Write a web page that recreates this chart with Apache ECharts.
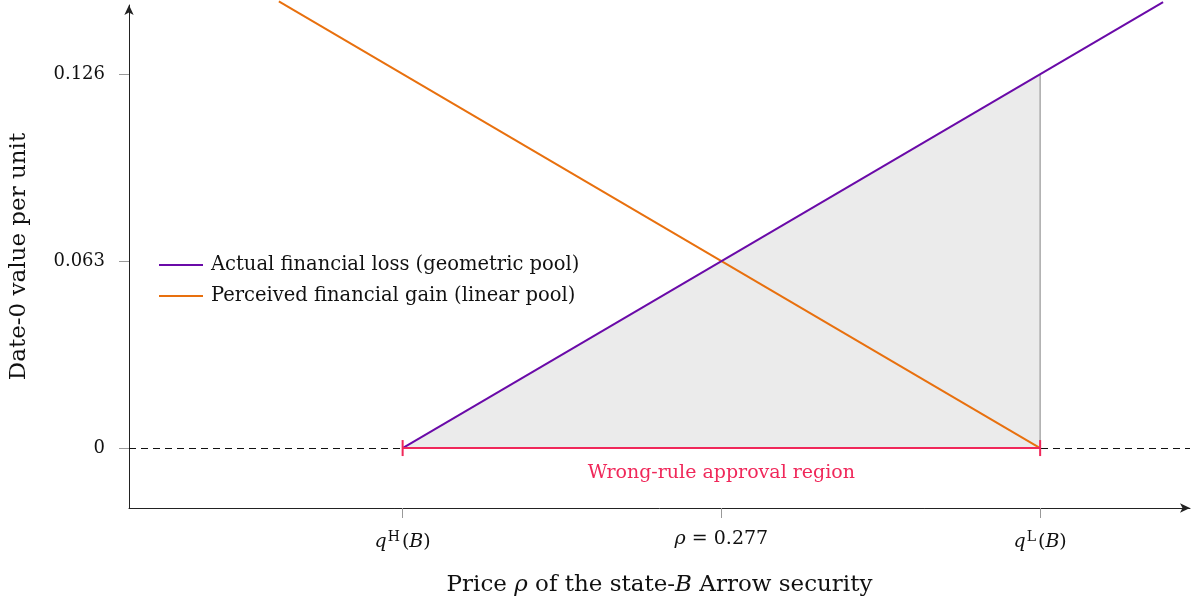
<!DOCTYPE html>
<html>
<head>
<meta charset="utf-8">
<script src="https://cdn.jsdelivr.net/npm/echarts@6/dist/echarts.min.js"></script>
<style>
  html, body { margin: 0; padding: 0; background: #fff; }
  #chart { width: 1198px; height: 603px; }
</style>
</head>
<body>
<div id="chart"></div>
<script>
// values
var qH = 0.2, rho = 0.277, qL = 0.354
var xTickValues = [qH, rho, qL]
var yTickValues = [0, 0.063, 0.126]
var lossLine = [[0.2, 0], [0.3837, 0.1503]]
var gainLine = [[0.1701, 0.1505], [0.354, 0]]
var shadedEdge = [[0.2, 0], [0.354, 0.126]]
var qLMarker = [[0.354, 0], [0.354, 0.126]]
var approvalRegion = [[0.2, 0], [0.354, 0]]

var serif = 'DejaVu Serif'
var pink = '#f0285a'
var rich = {
    n: { fontFamily: serif, fontSize: 19, color: '#111' },
    i: { fontFamily: serif, fontSize: 19, fontStyle: 'italic', color: '#111' },
    s: { fontFamily: serif, fontSize: 14, color: '#111', padding: [0, 2, 10, 1] }
}
var nameRich = {
    n: { fontFamily: serif, fontSize: 23, color: '#111' },
    i: { fontFamily: serif, fontSize: 23, fontStyle: 'italic', color: '#111' }
}

var myChart = echarts.init(document.getElementById('chart'))
var options = {
    animation: false,
    grid: { left: 126, right: 8, top: 5, bottom: 95 },
    legend: {
        orient: 'vertical',
        left: 154,
        top: 250,
        itemWidth: 44,
        itemHeight: 2,
        itemGap: 11,
        icon: 'rect',
        textStyle: { fontFamily: serif, fontSize: 19.5, color: '#111', padding: [0, 0, 0, 3] },
        data: ['Actual financial loss (geometric pool)', 'Perceived financial gain (linear pool)']
    },
    xAxis: {
        type: 'value',
        min: 0.1339,
        max: 0.3902,
        name: '{n|Price }{i|ρ}{n| of the state-}{i|B}{n| Arrow security}',
        nameLocation: 'middle',
        nameGap: 66,
        nameTextStyle: { rich: nameRich },
        axisLine: {
            onZero: false,
            symbol: ['none', 'arrow'],
            symbolSize: [7, 10],
            lineStyle: { color: '#222', width: 1 }
        },
        axisTick: { customValues: xTickValues, length: 10, lineStyle: { color: '#999' } },
        axisLabel: {
            customValues: xTickValues,
            margin: 22,
            formatter: function (v) {
                if (Math.abs(v - qH) < 1e-6) return '{i|q}{s|H}{n|(}{i|B}{n|)}'
                if (Math.abs(v - qL) < 1e-6) return '{i|q}{s|L}{n|(}{i|B}{n|)}'
                return '{i|ρ}{n| = 0.277}'
            },
            rich: rich
        },
        splitLine: { show: false }
    },
    yAxis: {
        type: 'value',
        min: -0.0202,
        max: 0.1493,
        name: 'Date-0 value per unit',
        nameLocation: 'middle',
        nameGap: 98,
        nameTextStyle: { fontFamily: serif, fontSize: 23, color: '#111' },
        axisLine: {
            show: true,
            onZero: false,
            symbol: ['none', 'arrow'],
            symbolSize: [7, 10],
            lineStyle: { color: '#222', width: 1 }
        },
        axisTick: { show: true, customValues: yTickValues, length: 10, lineStyle: { color: '#999' } },
        axisLabel: {
            customValues: yTickValues,
            margin: 24,
            fontFamily: serif,
            fontSize: 18,
            color: '#111',
            formatter: function (v) { return v === 0 ? '0' : v.toFixed(3) }
        },
        splitLine: { show: false }
    },
    series: [
        {
            name: 'shade',
            type: 'line',
            data: shadedEdge,
            symbol: 'none',
            lineStyle: { width: 0 },
            areaStyle: { color: '#ebebeb', opacity: 1 },
            silent: true,
            z: 1,
            markLine: {
                silent: true,
                z: 1,
                symbol: 'none',
                label: { show: false },
                lineStyle: { color: '#111', type: [7, 5], width: 1 },
                data: [{ yAxis: 0 }]
            }
        },
        {
            name: 'qL',
            type: 'line',
            data: qLMarker,
            symbol: 'none',
            lineStyle: { color: '#aaa', width: 1.5 },
            z: 2
        },
        {
            name: 'region',
            type: 'line',
            data: approvalRegion,
            symbol: 'rect',
            symbolSize: [2, 16],
            itemStyle: { color: pink },
            lineStyle: { color: pink, width: 2 },
            z: 6,
            markLine: {
                silent: true,
                z: 6,
                symbol: 'none',
                lineStyle: { color: pink, width: 2, type: 'solid' },
                label: {
                    show: true,
                    position: 'insideMiddleBottom',
                    distance: 16,
                    formatter: 'Wrong-rule approval region',
                    fontFamily: serif,
                    fontSize: 19,
                    color: pink
                },
                data: [[{ coord: approvalRegion[0] }, { coord: approvalRegion[1] }]]
            }
        },
        {
            name: 'Perceived financial gain (linear pool)',
            type: 'line',
            data: gainLine,
            symbol: 'none',
            clip: false,
            color: '#e8700e',
            lineStyle: { color: '#e8700e', width: 2 },
            z: 4
        },
        {
            name: 'Actual financial loss (geometric pool)',
            type: 'line',
            data: lossLine,
            symbol: 'none',
            clip: false,
            color: '#6a0aa8',
            lineStyle: { color: '#6a0aa8', width: 2 },
            z: 5
        }
    ]
}
myChart.setOption(options)
</script>
</body>
</html>
